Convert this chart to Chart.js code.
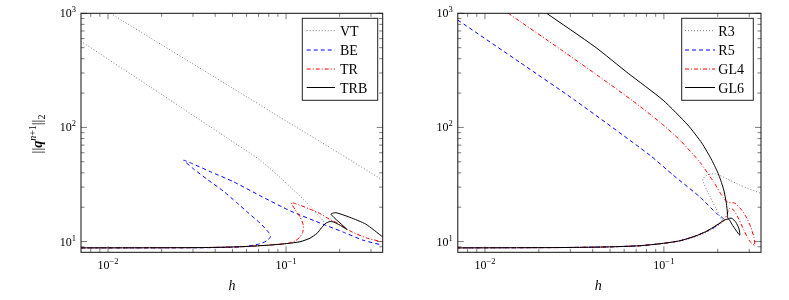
<!DOCTYPE html>
<html>
<head>
<meta charset="utf-8">
<script src="https://cdn.jsdelivr.net/npm/chart.js@4.4.0/dist/chart.umd.min.js"></script>
<style>
  html, body { margin: 0; padding: 0; background: #fff; }
  #wrap { position: relative; width: 789px; height: 300px; }
  canvas { position: absolute; top: 0; }
</style>
</head>
<body>
<div id="wrap">
  <canvas id="left" width="395" height="300" style="left:0"></canvas>
  <canvas id="right" width="394" height="300" style="left:395px"></canvas>
</div>
<script>
// axis ranges and tick decades
const hRange = [0.00705, 0.349];
const qRange = [8.05, 1000];
const hDecades = [-2, -1];
const qDecades = [1, 2, 3];

// left panel: step size h vs ||q^{n+1}||_2
const vtH1 = [0.01033, 0.02, 0.05, 0.1, 0.2, 0.349];
const vtQ1 = [1000, 530, 221, 114, 59, 34.5];
const vtH2 = [0.00705, 0.0173, 0.0486, 0.0715, 0.0962, 0.1278, 0.1654, 0.1591, 0.1492, 0.1363, 0.1198, 0.1009, 0.0782, 0.0551, 0.0328, 0.00705];
const vtQ2 = [568, 226, 77.4, 51.7, 34.5, 22.6, 14.5, 13.35, 11.8, 10.7, 9.96, 9.6, 9.28, 9.0, 8.85, 8.8];
const beH = [0.00705, 0.0328, 0.04857, 0.0589, 0.06967, 0.07825, 0.08187, 0.07927, 0.07148, 0.06121, 0.05248, 0.04454, 0.03656, 0.03013, 0.02658, 0.02937, 0.03751, 0.05047, 0.07335, 0.1053, 0.1612, 0.2094, 0.2710, 0.349];
const beQ = [8.8, 8.82, 8.91, 9.06, 9.47, 10.16, 11.13, 12.19, 14.5, 17.9, 22.1, 27.6, 34.5, 43.5, 51.6, 48.6, 40.96, 33.5, 24.7, 18.6, 14.2, 12.1, 10.27, 9.28];
const trH = [0.00705, 0.0328, 0.0551, 0.0782, 0.1009, 0.1123, 0.1198, 0.1241, 0.125, 0.1198, 0.1123, 0.1067, 0.1138, 0.1333, 0.155, 0.1764, 0.1963, 0.2283, 0.2832, 0.349];
const trQ = [8.8, 8.85, 9.0, 9.28, 9.6, 10.1, 10.97, 12.1, 13.9, 16.4, 19.1, 21.9, 21.4, 19.5, 17.6, 15.6, 14.4, 12.4, 10.75, 9.92];
const trbH = [0.00705, 0.0328, 0.0551, 0.0782, 0.1009, 0.1198, 0.1363, 0.1492, 0.1591, 0.1675, 0.1764, 0.1857, 0.2006, 0.2197, 0.1787, 0.1906, 0.2283, 0.2806, 0.349];
const trbQ = [8.8, 8.85, 9.0, 9.28, 9.6, 9.96, 10.7, 11.8, 13.35, 14.5, 14.97, 14.8, 13.9, 12.8, 17.35, 17.9, 16.3, 14.2, 10.97];

// right panel
const r3H = [0.00705, 0.02624, 0.04785, 0.07342, 0.1229, 0.1589, 0.1854, 0.2109, 0.1952, 0.1807, 0.1695, 0.1652, 0.1739, 0.1927, 0.2249, 0.2658, 0.349];
const r3Q = [8.8, 8.86, 8.97, 9.19, 10.1, 11.36, 12.8, 14.76, 19.6, 24.9, 30.6, 35.2, 38.2, 39.3, 35.6, 31.2, 26.4];
const r5H = [0.00705, 0.01569, 0.03184, 0.08351, 0.1127, 0.1589, 0.197, 0.2145, 0.2055, 0.197, 0.1732, 0.149, 0.1229, 0.09709, 0.07342, 0.04785, 0.02624, 0.00705];
const r5Q = [873, 371, 173, 57.1, 38.2, 24.6, 17.6, 15.9, 14.5, 13.7, 12.3, 11.13, 10.16, 9.6, 9.19, 8.97, 8.86, 8.8];
const gl4H = [0.01349, 0.02682, 0.0439, 0.06627, 0.0950, 0.1229, 0.1589, 0.1902, 0.2136, 0.2278, 0.2492, 0.2728, 0.2909, 0.3062, 0.3183, 0.3218, 0.3062, 0.2946, 0.2799, 0.2624, 0.246, 0.2337, 0.2249, 0.2192, 0.197, 0.1732, 0.149, 0.1229, 0.09709, 0.07342, 0.04785, 0.02624, 0.00705];
const gl4Q = [1000, 476, 276, 173, 111.3, 77.4, 49.6, 33.1, 24.5, 22.1, 21.7, 18.8, 16.0, 13.35, 10.9, 9.28, 9.78, 10.7, 12.6, 15.7, 18.8, 19.6, 17.35, 15.5, 13.9, 12.3, 11.13, 10.16, 9.6, 9.19, 8.97, 8.86, 8.8];
const gl6H = [0.02212, 0.04115, 0.06319, 0.0991, 0.1362, 0.1631, 0.1854, 0.2029, 0.2163, 0.2234, 0.227, 0.2278, 0.2398, 0.2524, 0.2624, 0.2658, 0.2524, 0.2398, 0.2307, 0.2192, 0.197, 0.1732, 0.149, 0.1229, 0.09709, 0.07342, 0.04785, 0.02624, 0.00705];
const gl6Q = [1000, 509, 298, 173, 104.8, 72.8, 51.6, 38.2, 28.2, 21.7, 17.35, 16.0, 16.0, 14.76, 13.1, 11.36, 12.6, 14.2, 15.7, 15.5, 13.9, 12.3, 11.13, 10.16, 9.6, 9.19, 8.97, 8.86, 8.8];

const SERIF = '"Liberation Serif", "DejaVu Serif", serif';

// line styles (pgfplots look)
const styles = {
    dotted: { color: '#6e6e6e', dash: [1, 2], width: 0.9, order: 4 },
    dashed: { color: '#0000ff', dash: [4, 3], width: 1, order: 3 },
    dashdot: { color: '#ff0000', dash: [4, 2, 1, 2], width: 1, order: 2 },
    solid: { color: '#000000', dash: [], width: 1, order: 1 }
};

function series(label, h, q, style) {
    const s = styles[style];
    return {
        label: label,
        data: h.map((v, i) => ({ x: v, y: q[i] })),
        showLine: true,
        pointRadius: 0,
        borderColor: s.color,
        borderDash: s.dash,
        borderWidth: s.width,
        tension: 0.2,
        order: s.order,
        clip: 0
    };
}

function drawPower(ctx, exp, x, y, align) {
    const sup = exp < 0 ? '\u2212' + (-exp) : String(exp);
    ctx.font = '12px ' + SERIF;
    const wb = ctx.measureText('10').width;
    ctx.font = '8.5px ' + SERIF;
    const ws = ctx.measureText(sup).width;
    const left = align === 'center' ? x - (wb + ws) / 2 : x - wb - ws;
    ctx.textAlign = 'left';
    ctx.textBaseline = 'alphabetic';
    ctx.font = '12px ' + SERIF;
    ctx.fillText('10', left, y);
    ctx.font = '8.5px ' + SERIF;
    ctx.fillText(sup, left + wb, y - 5);
}

function drawNormLabel(ctx, cx, cy) {
    const parts = [
        { t: '||', f: '14px ', dy: 0 },
        { t: 'q', f: 'italic bold 14px ', dy: 0 },
        { t: 'n', f: 'italic 10px ', dy: -6 },
        { t: '+1', f: '10px ', dy: -6 },
        { t: '||', f: '14px ', dy: 0 },
        { t: '2', f: '10px ', dy: 3 }
    ];
    let total = 0;
    parts.forEach(p => { ctx.font = p.f + SERIF; p.w = ctx.measureText(p.t).width; total += p.w; });
    ctx.save();
    ctx.translate(cx, cy);
    ctx.rotate(-Math.PI / 2);
    ctx.textAlign = 'left';
    ctx.textBaseline = 'alphabetic';
    let x = -total / 2;
    parts.forEach(p => {
        ctx.font = p.f + SERIF;
        ctx.fillText(p.t, x, 5 + p.dy);
        x += p.w;
    });
    ctx.restore();
}

// axes box, inward ticks, labels and legend drawn the way pgfplots does
const pgfAxes = {
    id: 'pgfAxes',
    afterDraw(chart, args, opts) {
        const ctx = chart.ctx;
        const a = chart.chartArea;
        const xs = chart.scales.x, ys = chart.scales.y;
        ctx.save();

        ctx.strokeStyle = '#444';
        ctx.lineWidth = 0.7;
        for (let d = -3; d <= 3; d++) {
            for (let m = 1; m <= 9; m++) {
                const v = m * Math.pow(10, d);
                const len = m === 1 ? 6 : 3.5;
                if (v >= xs.min && v <= xs.max) {
                    const px = xs.getPixelForValue(v);
                    ctx.beginPath();
                    ctx.moveTo(px, a.bottom); ctx.lineTo(px, a.bottom - len);
                    ctx.moveTo(px, a.top); ctx.lineTo(px, a.top + len);
                    ctx.stroke();
                }
                if (v >= ys.min && v <= ys.max) {
                    const py = ys.getPixelForValue(v);
                    ctx.beginPath();
                    ctx.moveTo(a.left, py); ctx.lineTo(a.left + len, py);
                    ctx.moveTo(a.right, py); ctx.lineTo(a.right - len, py);
                    ctx.stroke();
                }
            }
        }

        ctx.strokeStyle = '#111';
        ctx.lineWidth = 1;
        ctx.strokeRect(a.left, a.top, a.right - a.left, a.bottom - a.top);

        ctx.fillStyle = '#000';
        hDecades.forEach(e => drawPower(ctx, e, xs.getPixelForValue(Math.pow(10, e)), 268.5, 'center'));
        qDecades.forEach(e => drawPower(ctx, e, a.left - 5, ys.getPixelForValue(Math.pow(10, e)) + 4, 'right'));

        ctx.font = 'italic 14px ' + SERIF;
        ctx.textAlign = 'center';
        ctx.textBaseline = 'alphabetic';
        ctx.fillText('h', opts.hX, 290);
        if (opts.yLabel) drawNormLabel(ctx, 37, 134);

        // legend
        const lg = opts.legend;
        ctx.fillStyle = '#fff';
        ctx.fillRect(lg.x, lg.y, lg.w, lg.h);
        ctx.strokeStyle = '#222';
        ctx.lineWidth = 1;
        ctx.strokeRect(lg.x, lg.y, lg.w, lg.h);
        lg.items.forEach((name, i) => {
            const ds = chart.data.datasets.find(d => d.label === name);
            const cy = lg.rows[i];
            ctx.setLineDash(ds.borderDash);
            ctx.strokeStyle = ds.borderColor;
            ctx.lineWidth = ds.borderWidth;
            ctx.beginPath();
            ctx.moveTo(lg.l0, cy); ctx.lineTo(lg.l1, cy);
            ctx.stroke();
            ctx.setLineDash([]);
            ctx.fillStyle = '#000';
            ctx.font = '14px ' + SERIF;
            ctx.textAlign = 'left';
            ctx.fillText(name, lg.tx, cy + 5);
        });
        ctx.restore();
    }
};

function makeChart(id, datasets, cfg) {
    return new Chart(document.getElementById(id), {
        type: 'scatter',
        data: { datasets: datasets },
        options: {
            responsive: false,
            animation: false,
            events: [],
            layout: { padding: { top: 13.3, right: cfg.padRight, left: 0, bottom: 0 } },
            plugins: { legend: { display: false }, tooltip: { enabled: false }, pgfAxes: cfg },
            scales: {
                x: {
                    type: 'logarithmic', min: hRange[0], max: hRange[1],
                    grid: { display: false }, border: { display: false }, ticks: { display: false },
                    afterFit: s => { s.height = 47.7; }
                },
                y: {
                    type: 'logarithmic', min: qRange[0], max: qRange[1],
                    grid: { display: false }, border: { display: false }, ticks: { display: false },
                    afterFit: s => { s.width = cfg.yWidth; }
                }
            }
        },
        plugins: [pgfAxes]
    });
}

makeChart('left', [
    series('VT', vtH1, vtQ1, 'dotted'),
    series('VT2', vtH2, vtQ2, 'dotted'),
    series('BE', beH, beQ, 'dashed'),
    series('TR', trH, trQ, 'dashdot'),
    series('TRB', trbH, trbQ, 'solid')
], {
    padRight: 12.3, yWidth: 81, hX: 232, yLabel: true,
    legend: { x: 302.3, y: 18.3, w: 75.4, h: 82, l0: 306.7, l1: 335, tx: 340,
              rows: [30.7, 50, 69, 87.5], items: ['VT', 'BE', 'TR', 'TRB'] }
});

makeChart('right', [
    series('R3', r3H, r3Q, 'dotted'),
    series('R5', r5H, r5Q, 'dashed'),
    series('GL4', gl4H, gl4Q, 'dashdot'),
    series('GL6', gl6H, gl6Q, 'solid')
], {
    padRight: 28, yWidth: 62.8, hX: 203.3, yLabel: false,
    legend: { x: 286.7, y: 18.3, w: 71.6, h: 82, l0: 290, l1: 320, tx: 323.3,
              rows: [30.7, 50, 69, 87.5], items: ['R3', 'R5', 'GL4', 'GL6'] }
});
</script>
</body>
</html>
